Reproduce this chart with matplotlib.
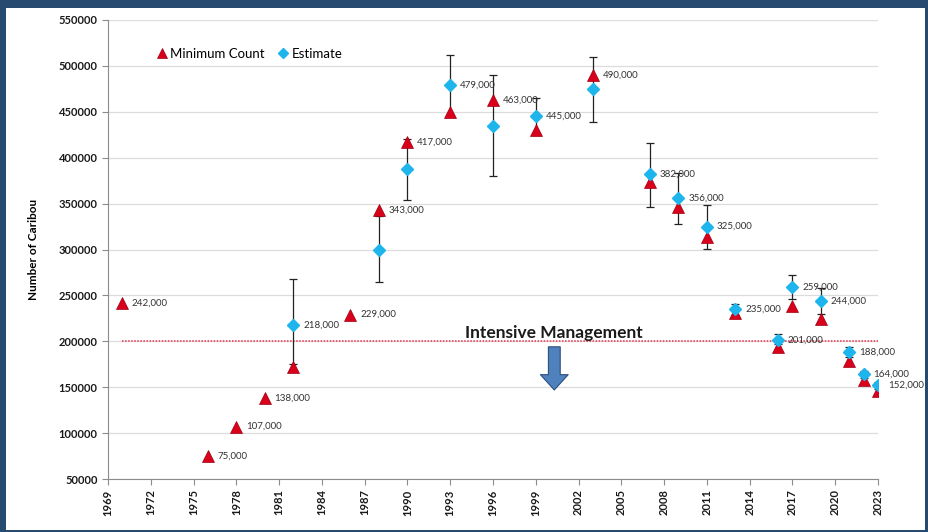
import matplotlib
matplotlib.use('Agg')
import matplotlib.pyplot as plt
from matplotlib.patches import Rectangle

plt.rcParams['font.family'] = ['Lato', 'DejaVu Sans']

# minimum counts (red triangles)
min_years = [1970, 1976, 1978, 1980, 1982, 1986, 1988, 1990, 1993, 1996, 1999, 2003,
             2007, 2009, 2011, 2013, 2016, 2017, 2019, 2021, 2022, 2023]
min_vals = [242000, 75000, 107000, 138000, 172000, 229000, 343000, 417000, 450000, 463000,
            430000, 490000, 374000, 346000, 314000, 231000, 194000, 238000, 224000,
            178000, 158000, 146000]

# estimates (blue diamonds) with error bar ends
est_years = [1982, 1988, 1990, 1993, 1996, 1999, 2003, 2007, 2009, 2011, 2013, 2016,
             2017, 2019, 2021, 2022, 2023]
est_vals = [218000, 300000, 388000, 479000, 435000, 445000, 475000, 382000, 356000, 325000,
            235000, 201000, 259000, 244000, 188000, 164000, 152000]
est_lo = [175000, 265000, 354000, 447000, 380000, 425000, 439000, 346000, 328000, 301000,
          229000, 197000, 246000, 230000, 183000, 160000, 148000]
est_hi = [268000, 337000, 420000, 512000, 490000, 465000, 510000, 416000, 383000, 348000,
          241000, 208000, 272000, 258000, 194000, 168000, 156000]

# labelled points
lab_years = [1970, 1976, 1978, 1980, 1982, 1986, 1988, 1990, 1993, 1996, 1999, 2003,
             2007, 2009, 2011, 2013, 2016, 2017, 2019, 2021, 2022, 2023]
lab_vals = [242000, 75000, 107000, 138000, 218000, 229000, 343000, 417000, 479000, 463000,
            445000, 490000, 382000, 356000, 325000, 235000, 201000, 259000, 244000,
            188000, 164000, 152000]

x_ticks = list(range(1969, 2024, 3))
y_ticks = list(range(50000, 550001, 50000))
im_level = 200000

fig = plt.figure(figsize=(9.29, 5.32), dpi=100)
fig.patch.set_facecolor('#264a70')
fig.patches.append(Rectangle((6 / 929, 2 / 532), 919 / 929, 522 / 532,
                             transform=fig.transFigure, facecolor='white',
                             edgecolor='none', zorder=-10))

ax = fig.add_axes([108 / 929, 1 - 479 / 532, 770 / 929, 459 / 532])
ax.set_zorder(5)
ax.set_facecolor('white')

ax.set_xlim(1969, 2023)
ax.set_ylim(50000, 550000)
ax.set_xticks(x_ticks)
ax.set_xticklabels([str(t) for t in x_ticks], rotation=90, fontsize=8, fontweight='bold',
                   color='#1a1a1a')
ax.set_yticks(y_ticks)
ax.set_yticklabels([str(t) for t in y_ticks], fontsize=8, fontweight='bold', color='#1a1a1a')
ax.yaxis.grid(True, color='#dcdcdc', linewidth=0.9)
ax.set_axisbelow(True)
for s in ['top', 'right']:
    ax.spines[s].set_visible(False)
for s in ['left', 'bottom']:
    ax.spines[s].set_color('#8c8c8c')
ax.tick_params(axis='both', colors='#8c8c8c', length=4, width=0.8, labelcolor='#1a1a1a')
ax.set_ylabel('Number of Caribou', fontsize=8.5, fontweight='bold', labelpad=14)

# error bars and markers
ax.errorbar(est_years, est_vals,
            yerr=[[v - lo for v, lo in zip(est_vals, est_lo)],
                  [hi - v for v, hi in zip(est_vals, est_hi)]],
            fmt='none', ecolor='#222222', elinewidth=0.9, capsize=3, capthick=0.9, zorder=2)
ax.plot(min_years, min_vals, linestyle='none', marker='^', markersize=8.5,
        color='#d9001b', markeredgecolor='#a00010', markeredgewidth=0.5,
        label='Minimum Count', zorder=3)
ax.plot(est_years, est_vals, linestyle='none', marker='D', markersize=6,
        color='#1eb4ec', markeredgecolor='#1eb4ec', label='Estimate', zorder=4)

for yr, v in zip(lab_years, lab_vals):
    ax.annotate(f'{v:,}', (yr, v), xytext=(7, 0), textcoords='offset points',
                va='center', ha='left', fontsize=7, color='#333333', zorder=5)

# intensive management threshold
ax.hlines(im_level, 1970, 2023, colors='#e8304a', linestyles=(0, (1, 1)), linewidth=1.1,
          zorder=1)
ax.text(2000.3, im_level + 800, 'Intensive Management', ha='center', va='bottom',
        fontsize=12.5, fontweight='bold', color='#1a1a1a')
ax.annotate('', xy=(2000.3, im_level - 53000), xytext=(2000.3, im_level - 6000),
            arrowprops=dict(arrowstyle='simple,head_width=2.0,head_length=1.1,tail_width=0.85',
                            mutation_scale=10, facecolor='#4f81bd', edgecolor='#2c4f7c',
                            linewidth=0.8, shrinkA=0, shrinkB=0))

leg = ax.legend(loc='upper left', bbox_to_anchor=(0.045, 0.965), ncol=2, frameon=False,
                fontsize=9.5, handletextpad=0.0, columnspacing=0.8, handlelength=1.2,
                markerscale=0.85)

fig.savefig('out.png', dpi=100, facecolor=fig.get_facecolor())
